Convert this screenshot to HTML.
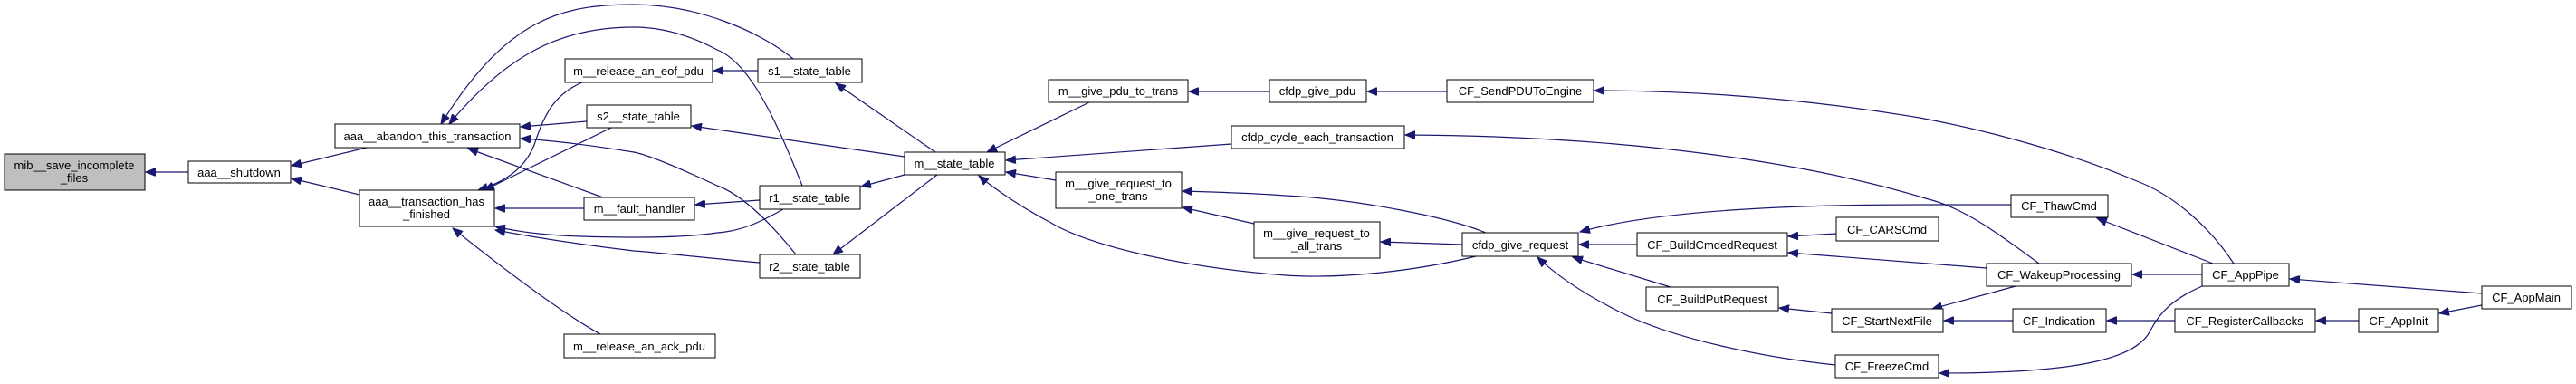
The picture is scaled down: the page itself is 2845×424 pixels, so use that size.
<!DOCTYPE html>
<html><head><meta charset="utf-8"><style>
html,body{margin:0;padding:0;background:#fff;}
svg{display:block;}
text{font-family:"Liberation Sans",Arial,sans-serif;font-size:13px;fill:#000;}
.n{fill:#fff;stroke:#000;stroke-width:1;}
.e{fill:none;stroke:#191970;stroke-width:1.2;}
</style></head><body>
<svg width="2845" height="424" viewBox="0 0 2845 424" xmlns="http://www.w3.org/2000/svg">
<defs><marker id="a" markerUnits="userSpaceOnUse" markerWidth="12" markerHeight="9" refX="11" refY="4.5" orient="auto"><path d="M0,0 L11,4.5 L0,9 z" fill="#191970" stroke="#191970"/></marker></defs>
<g marker-end="url(#a)">
<path class="e" d="M208,190 L161,190"/>
<path class="e" d="M405,163 L322,183"/>
<path class="e" d="M397,215 L322,197"/>
<path class="e" d="M876,65 C840,35 770,5 700,5 C620,5 560,20 487,137"/>
<path class="e" d="M886,205 C860,140 830,70 792,55 C760,38 730,30 700,30 C620,30 560,60 496,137"/>
<path class="e" d="M648,134 L575,140"/>
<path class="e" d="M879,281 C850,245 820,215 792,205 C760,190 720,172 700,168 C650,160 610,155 575,153"/>
<path class="e" d="M666,218 L517,164"/>
<path class="e" d="M643,91 C610,105 600,130 590,160 C580,185 560,200 528,210"/>
<path class="e" d="M675,141 L535,210"/>
<path class="e" d="M645,230 L547,230"/>
<path class="e" d="M865,231 C840,245 820,255 792,257 C760,262 720,262 700,262 C620,262 580,258 547,250"/>
<path class="e" d="M839,290 C780,285 740,280 700,277 C640,270 590,262 547,254"/>
<path class="e" d="M663,369 C620,345 560,300 500,252"/>
<path class="e" d="M837,78 L788,78"/>
<path class="e" d="M839,221 L768,226"/>
<path class="e" d="M1033,168 L923,92"/>
<path class="e" d="M999,173 L764,139"/>
<path class="e" d="M999,193 L951,206"/>
<path class="e" d="M1035,193 L920,281"/>
<path class="e" d="M1203,113 L1090,168"/>
<path class="e" d="M1360,159 L1111,177"/>
<path class="e" d="M1166,199 L1111,190"/>
<path class="e" d="M1630,283 C1560,300 1480,308 1420,304 C1300,295 1200,270 1159,245 C1130,230 1100,210 1081,194"/>
<path class="e" d="M1641,257 C1600,240 1500,220 1420,216 C1380,213 1340,212 1306,211"/>
<path class="e" d="M1385,247 L1306,229"/>
<path class="e" d="M1615,270 L1525,267"/>
<path class="e" d="M1402,101 L1313,101"/>
<path class="e" d="M1598,101 L1510,101"/>
<path class="e" d="M2467,291 C2440,250 2400,215 2360,200 C2290,170 2200,145 2120,130 C2000,110 1880,100 1761,100"/>
<path class="e" d="M2252,291 C2210,260 2170,230 2130,220 C2000,180 1800,150 1552,149"/>
<path class="e" d="M2221,226 L2120,226 C1950,226 1820,235 1745,256"/>
<path class="e" d="M1808,270 L1744,270"/>
<path class="e" d="M1845,317 L1737,284"/>
<path class="e" d="M2027,403 C1950,395 1850,375 1790,345 C1750,325 1720,305 1698,284"/>
<path class="e" d="M2028,258 L1975,261"/>
<path class="e" d="M2194,296 L1975,279"/>
<path class="e" d="M2023,346 L1965,340"/>
<path class="e" d="M2226,316 L2134,341"/>
<path class="e" d="M2223,354 L2147,354"/>
<path class="e" d="M2444,291 L2316,241"/>
<path class="e" d="M2432,303 L2355,303"/>
<path class="e" d="M2432,316 C2400,330 2385,345 2375,365 C2360,395 2300,412 2142,412"/>
<path class="e" d="M2402,354 L2327,354"/>
<path class="e" d="M2605,354 L2558,354"/>
<path class="e" d="M2741,324 L2529,308"/>
<path class="e" d="M2741,337 L2694,346"/>
</g>
<g text-anchor="middle">
<rect x="5" y="170" width="155" height="40" fill="#bfbfbf" stroke="#000"/><text x="82" y="187">mib__save_incomplete</text><text x="82" y="201">_files</text>
<rect class="n" x="208" y="178" width="113" height="24"/><text x="264" y="195">aaa__shutdown</text>
<rect class="n" x="370" y="137" width="204" height="26"/><text x="472" y="155">aaa__abandon_this_transaction</text>
<rect class="n" x="397" y="210" width="149" height="40"/><text x="471" y="227">aaa__transaction_has</text><text x="471" y="241">_finished</text>
<rect class="n" x="624" y="65" width="163" height="26"/><text x="705" y="83">m__release_an_eof_pdu</text>
<rect class="n" x="648" y="116" width="115" height="25"/><text x="705" y="133">s2__state_table</text>
<rect class="n" x="645" y="218" width="122" height="25"/><text x="706" y="235">m__fault_handler</text>
<rect class="n" x="623" y="369" width="167" height="26"/><text x="706" y="387">m__release_an_ack_pdu</text>
<rect class="n" x="837" y="65" width="115" height="26"/><text x="894" y="83">s1__state_table</text>
<rect class="n" x="839" y="205" width="111" height="26"/><text x="894" y="223">r1__state_table</text>
<rect class="n" x="839" y="281" width="111" height="26"/><text x="894" y="299">r2__state_table</text>
<rect class="n" x="999" y="168" width="111" height="25"/><text x="1054" y="185">m__state_table</text>
<rect class="n" x="1158" y="88" width="154" height="25"/><text x="1235" y="105">m__give_pdu_to_trans</text>
<rect class="n" x="1360" y="139" width="191" height="25"/><text x="1455" y="156">cfdp_cycle_each_transaction</text>
<rect class="n" x="1166" y="190" width="139" height="40"/><text x="1235" y="207">m__give_request_to</text><text x="1235" y="221">_one_trans</text>
<rect class="n" x="1385" y="245" width="139" height="40"/><text x="1454" y="262">m__give_request_to</text><text x="1454" y="276">_all_trans</text>
<rect class="n" x="1402" y="88" width="107" height="25"/><text x="1455" y="105">cfdp_give_pdu</text>
<rect class="n" x="1598" y="88" width="162" height="25"/><text x="1679" y="105">CF_SendPDUToEngine</text>
<rect class="n" x="1615" y="257" width="128" height="26"/><text x="1679" y="275">cfdp_give_request</text>
<rect class="n" x="1808" y="257" width="166" height="26"/><text x="1891" y="275">CF_BuildCmdedRequest</text>
<rect class="n" x="1818" y="317" width="146" height="26"/><text x="1891" y="335">CF_BuildPutRequest</text>
<rect class="n" x="2028" y="240" width="113" height="26"/><text x="2084" y="258">CF_CARSCmd</text>
<rect class="n" x="2023" y="341" width="123" height="26"/><text x="2084" y="359">CF_StartNextFile</text>
<rect class="n" x="2027" y="392" width="114" height="25"/><text x="2084" y="409">CF_FreezeCmd</text>
<rect class="n" x="2221" y="215" width="107" height="25"/><text x="2274" y="232">CF_ThawCmd</text>
<rect class="n" x="2194" y="291" width="160" height="25"/><text x="2274" y="308">CF_WakeupProcessing</text>
<rect class="n" x="2223" y="341" width="103" height="26"/><text x="2274" y="359">CF_Indication</text>
<rect class="n" x="2432" y="291" width="96" height="25"/><text x="2480" y="308">CF_AppPipe</text>
<rect class="n" x="2402" y="341" width="155" height="26"/><text x="2479" y="359">CF_RegisterCallbacks</text>
<rect class="n" x="2605" y="341" width="88" height="26"/><text x="2649" y="359">CF_AppInit</text>
<rect class="n" x="2741" y="316" width="99" height="25"/><text x="2790" y="333">CF_AppMain</text>
</g>
</svg>
</body></html>
